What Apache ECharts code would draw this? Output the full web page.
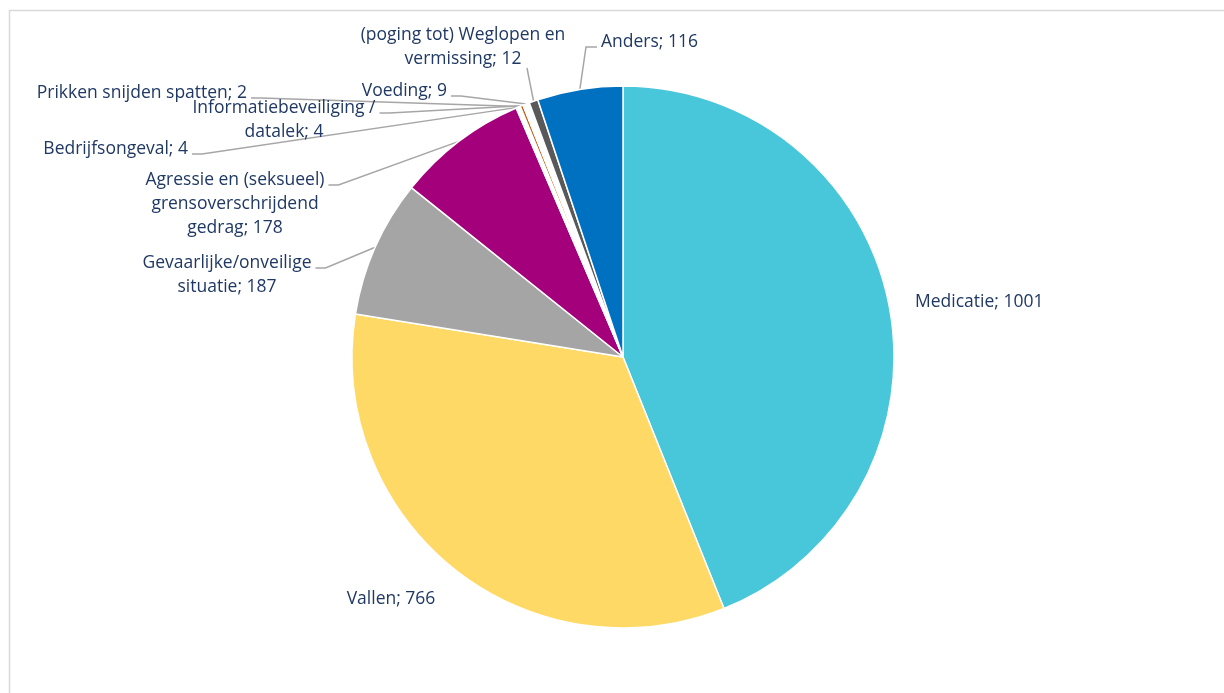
<!DOCTYPE html>
<html>
<head>
<meta charset="utf-8">
<script src="https://cdn.jsdelivr.net/npm/echarts@6/dist/echarts.min.js"></script>
<style>
  html, body { margin: 0; padding: 0; background: #ffffff; }
  #chart { width: 1224px; height: 693px; }
</style>
</head>
<body>
<div id="chart"></div>
<script>
// ---- data ----
const categories = [
  'Medicatie',
  'Vallen',
  'Gevaarlijke/onveilige\nsituatie',
  'Agressie en (seksueel)\ngrensoverschrijdend\ngedrag',
  'Bedrijfsongeval',
  'Prikken snijden spatten',
  'Informatiebeveiliging /\ndatalek',
  'Voeding',
  '(poging tot) Weglopen en\nvermissing',
  'Anders'
];
const values = [1001, 766, 187, 178, 4, 2, 4, 9, 12, 116];
const colors = ['#48C6DA', '#FFD966', '#A5A5A5', '#A5007B', '#FFFFFF', '#FFFFFF', '#C55A11', '#FFFFFF', '#595959', '#0070C0'];

// ---- label placement (layout only) ----
const labelSpots = [
  { x: 915, y: 302, align: 'left', attach: 'none' },
  { x: 391, y: 599, align: 'center', attach: 'none' },
  { x: 227, y: 275, align: 'center', attach: 'first' },
  { x: 235, y: 204, align: 'center', attach: 'first' },
  { x: 188, y: 149, align: 'right', attach: 'first' },
  { x: 247, y: 93, align: 'right', attach: 'first' },
  { x: 284, y: 120, align: 'center', attach: 'first' },
  { x: 447, y: 91, align: 'right', attach: 'first' },
  { x: 463, y: 47, align: 'center', attach: 'last' },
  { x: 601, y: 42, align: 'left', attach: 'left' }
];
const LH = 24;

const chart = echarts.init(document.getElementById('chart'));

const seriesData = categories.map((name, i) => ({
  name: name,
  value: values[i],
  itemStyle: { color: colors[i] },
  labelLine: { show: labelSpots[i].attach !== 'none' }
}));

chart.setOption({
  animation: false,
  backgroundColor: '#ffffff',
  graphic: [{
    type: 'rect',
    shape: { x: 9.5, y: 10.5, width: 1230, height: 700 },
    style: { fill: 'none', stroke: '#D9D9D9', lineWidth: 1.5 },
    silent: true
  }],
  series: [{
    type: 'pie',
    center: [623, 357],
    radius: [0, 271],
    startAngle: 90,
    clockwise: true,
    avoidLabelOverlap: false,
    data: seriesData,
    itemStyle: { borderColor: '#ffffff', borderWidth: 1.5 },
    label: {
      show: true,
      position: 'outside',
      formatter: (p) => p.name + '; ' + p.value,
      color: '#1F3864',
      fontFamily: 'Open Sans',
      fontSize: 17.5,
      lineHeight: LH
    },
    labelLine: {
      show: true,
      length: 10,
      length2: 10,
      lineStyle: { color: '#A6A6A6', width: 1.5 }
    },
    emphasis: { disabled: true },
    labelLayout: function (params) {
      const s = labelSpots[params.dataIndex];
      const w = params.labelRect.width;
      const h = params.labelRect.height;
      const res = { x: s.x, y: s.y, align: s.align, verticalAlign: 'middle', hideOverlap: false };
      const pts = params.labelLinePoints;
      if (!pts || s.attach === 'none') return res;
      const anchor = pts[0];
      const top = s.y - h / 2;
      let left;
      if (s.align === 'left') left = s.x;
      else if (s.align === 'right') left = s.x - w;
      else left = s.x - w / 2;
      let end, elbow;
      if (s.attach === 'first') {
        end = [left + w + 4, top + LH / 2 + 5];
        elbow = [end[0] + 10, end[1]];
      } else if (s.attach === 'last') {
        end = [s.x + 64, top + h - LH / 2 + 9];
        elbow = [(end[0] + anchor[0]) / 2, (end[1] + anchor[1]) / 2];
      } else {
        end = [left - 4, s.y + 5];
        elbow = [end[0] - 11, end[1]];
      }
      res.labelLinePoints = [anchor, elbow, end];
      return res;
    }
  }]
});
</script>
</body>
</html>
